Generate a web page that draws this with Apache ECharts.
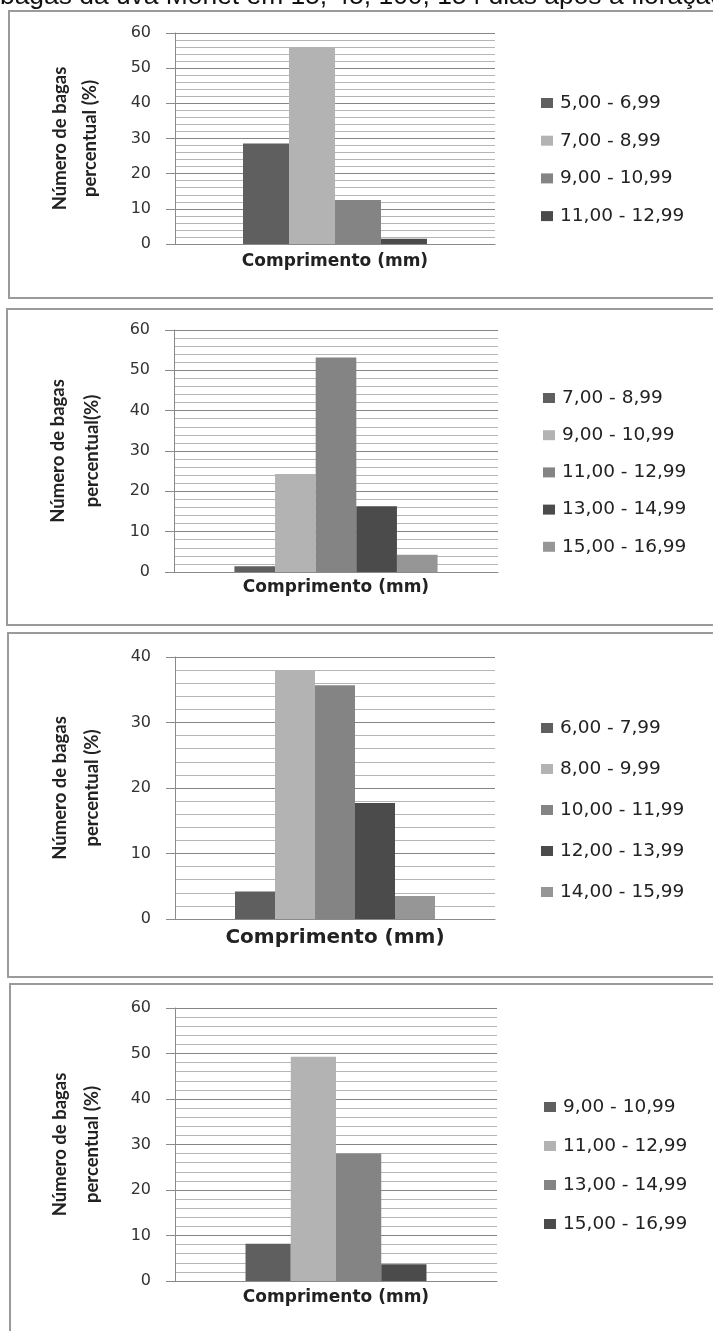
<!DOCTYPE html>
<html>
<head>
<meta charset="utf-8">
<script src="https://cdn.jsdelivr.net/npm/echarts@6/dist/echarts.min.js"></script>
<style>
  html, body { margin: 0; padding: 0; background: #fff; overflow: hidden; }
  body { width: 713px; height: 1331px; position: relative; }
  .chart { position: absolute; left: 0; top: 0; width: 713px; height: 1331px; }
</style>
</head>
<body>
<div id="c1" class="chart"></div>
<div id="c2" class="chart"></div>
<div id="c3" class="chart"></div>
<div id="c4" class="chart"></div>
<script>
// Caption line above the first panel
const caption = 'bagas da uva Monet em 15, 45, 100, 154 dias após a floração';

// Length classes (mm) and share of berries (%) for each sampling date
const classes1 = ['5,00 - 6,99', '7,00 - 8,99', '9,00 - 10,99', '11,00 - 12,99'];
const values1 = [28.6, 56.0, 12.5, 1.5];

const classes2 = ['7,00 - 8,99', '9,00 - 10,99', '11,00 - 12,99', '13,00 - 14,99', '15,00 - 16,99'];
const values2 = [1.4, 24.3, 53.2, 16.3, 4.3];

const classes3 = ['6,00 - 7,99', '8,00 - 9,99', '10,00 - 11,99', '12,00 - 13,99', '14,00 - 15,99'];
const values3 = [4.2, 37.9, 35.7, 17.7, 3.5];

const classes4 = ['9,00 - 10,99', '11,00 - 12,99', '13,00 - 14,99', '15,00 - 16,99'];
const values4 = [8.2, 49.3, 28.0, 3.7];

// Value axis ranges
const yMax = [60, 60, 40, 60];
const yStep = 10;

// Axis titles
const yTitles = [
  'Número de bagas\npercentual (%)',
  'Número de bagas\npercentual(%)',
  'Número de bagas\npercentual (%)',
  'Número de bagas\npercentual (%)'
];
const xTitle = 'Comprimento (mm)';

// Grey shades for the classes, in order
const shades = ['#5f5f5f', '#b3b3b3', '#848484', '#4b4b4b', '#969696'];

// Page layout of each panel
const layout = [
  { box: [9, 11, 720, 287],  grid: [175, 33, 320, 211],  gap: '42.5%', xGap: 9.5, xFont: 17, yGap: 70, yLH: 30, legendTop: 88,  legendGap: 17.7, legendLeft: 536 },
  { box: [7, 309, 720, 316], grid: [174, 330, 324, 242], gap: '37.3%', xGap: 7.5, xFont: 17, yGap: 65, yLH: 34, legendTop: 383, legendGap: 17.2, legendLeft: 538 },
  { box: [8, 633, 720, 344], grid: [175, 657, 320, 262], gap: '37.5%', xGap: 9,   xFont: 20, yGap: 67, yLH: 32, legendTop: 713, legendGap: 21,   legendLeft: 536 },
  { box: [10, 984, 720, 400], grid: [175, 1008, 322, 273], gap: '43.8%', xGap: 8.5, xFont: 17, yGap: 67, yLH: 32, legendTop: 1092, legendGap: 19, legendLeft: 539 }
];

const panels = [
  [classes1, values1],
  [classes2, values2],
  [classes3, values3],
  [classes4, values4]
];

function buildOption(i) {
  const [classes, values] = panels[i];
  const L = layout[i];
  const graphic = [{
    type: 'rect',
    silent: true,
    shape: { x: L.box[0], y: L.box[1], width: L.box[2], height: L.box[3] },
    style: { fill: 'none', stroke: '#9a9a9a', lineWidth: 2 }
  }];
  if (i === 0) {
    graphic.push({
      type: 'text',
      silent: true,
      style: {
        x: 0, y: -3, text: caption,
        font: '26.4px "Liberation Sans", Arial, sans-serif',
        fill: '#111', verticalAlign: 'middle', align: 'left'
      }
    });
  }
  return {
    animation: false,
    graphic: graphic,
    grid: { left: L.grid[0], top: L.grid[1], width: L.grid[2], height: L.grid[3], containLabel: false },
    legend: {
      orient: 'vertical',
      left: L.legendLeft,
      top: L.legendTop,
      itemWidth: 12,
      itemHeight: 10,
      itemGap: L.legendGap,
      icon: 'rect',
      selectedMode: false,
      data: classes,
      textStyle: { fontFamily: 'DejaVu Sans', fontSize: 18.5, color: '#222', lineHeight: 20, padding: [0, 0, 0, 2] }
    },
    xAxis: {
      type: 'category',
      data: [''],
      axisLine: { show: true, lineStyle: { color: '#8a8a8a', width: 1 } },
      axisTick: { show: false },
      axisLabel: { show: false },
      splitLine: { show: false },
      name: xTitle,
      nameLocation: 'middle',
      nameGap: L.xGap,
      nameTextStyle: { fontFamily: 'DejaVu Sans', fontWeight: 'bold', fontSize: L.xFont, lineHeight: L.xFont, color: '#222' }
    },
    yAxis: {
      type: 'value',
      min: 0,
      max: yMax[i],
      interval: yStep,
      axisLine: { show: true, lineStyle: { color: '#8a8a8a', width: 1 } },
      axisTick: { show: true, length: 9, lineStyle: { color: '#8a8a8a' } },
      axisLabel: { margin: 24, fontFamily: 'DejaVu Sans', fontSize: 16, color: '#333' },
      splitLine: { show: true, lineStyle: { color: '#858585', width: 1 } },
      minorTick: { show: false, splitNumber: 5 },
      minorSplitLine: { show: true, lineStyle: { color: '#b5b5b5', width: 1 } },
      name: yTitles[i],
      nameLocation: 'middle',
      nameGap: L.yGap,
      nameTextStyle: { fontFamily: 'Lato', fontWeight: 'bold', fontSize: 18.5, lineHeight: L.yLH, color: '#222', align: 'center' }
    },
    series: classes.map((name, k) => ({
      type: 'bar',
      name: name,
      data: [values[k]],
      barGap: '0%',
      barCategoryGap: L.gap,
      itemStyle: { color: shades[k] },
      emphasis: { disabled: true }
    }))
  };
}

['c1', 'c2', 'c3', 'c4'].forEach((id, i) => {
  const chart = echarts.init(document.getElementById(id), null, { renderer: 'canvas' });
  chart.setOption(buildOption(i));
});
</script>
</body>
</html>
